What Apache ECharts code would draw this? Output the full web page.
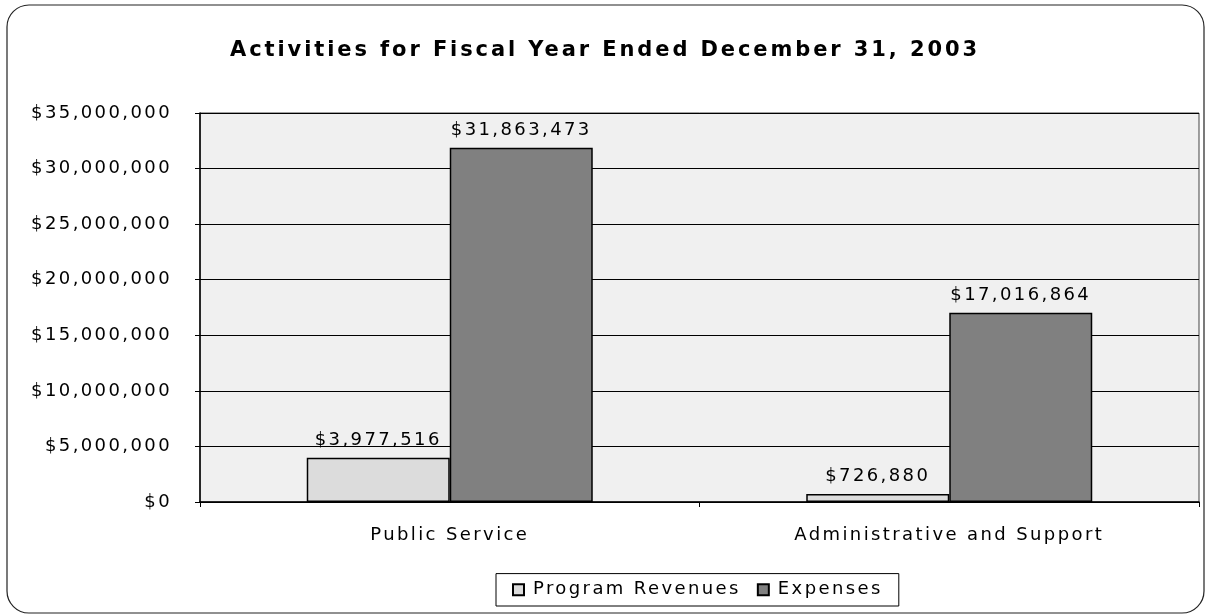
<!DOCTYPE html>
<html>
<head>
<meta charset="utf-8">
<script src="https://cdn.jsdelivr.net/npm/echarts@6/dist/echarts.min.js"></script>
<style>
html,body{margin:0;padding:0;background:#fff;}
#chart{width:1210px;height:616px;}
</style>
</head>
<body>
<div id="chart"></div>
<script>
var titleText = 'Activities for Fiscal Year Ended December 31, 2003';
var categories = ['Public Service', 'Administrative and Support'];
var seriesNames = ['Program Revenues', 'Expenses'];
var programRevenues = [3977516, 726880];
var expenses = [31863473, 17016864];
var yMin = 0, yMax = 35000000, yStep = 5000000;

// widen letter spacing of canvas text to mimic the reference's wide face
(function(){
  var proto = CanvasRenderingContext2D.prototype;
  var desc = Object.getOwnPropertyDescriptor(proto, 'font');
  if (!desc || !('letterSpacing' in proto)) return;
  Object.defineProperty(proto, 'font', {
    configurable: true,
    get: function(){ return desc.get.call(this); },
    set: function(v){
      desc.set.call(this, v);
      this.letterSpacing = /bold/.test(v) ? '2.9px' : '2.4px';
    }
  });
})();

function money(v){ return '$' + Math.round(v).toLocaleString('en-US'); }

var chart = echarts.init(document.getElementById('chart'), null, {renderer:'canvas'});
var font = 'DejaVu Sans, Verdana, sans-serif';
var labelCfg = {
  show: true, position: 'top', distance: 7,
  fontFamily: font, fontSize: 18, color: '#000',
  formatter: function(p){ return money(p.value); }
};
chart.setOption({
  backgroundColor: '#fff',
  animation: false,
  title: {
    text: titleText, left: 'center', top: 34,
    textStyle: {fontFamily: font, fontSize: 21, fontWeight: 'bold', color: '#000'}
  },
  graphic: [{
    type: 'rect', silent: true, z: -1,
    shape: {x: 7, y: 5, width: 1197, height: 608, r: 22},
    style: {fill: 'none', stroke: '#222', lineWidth: 1.2}
  }],
  legend: {
    bottom: 10, left: 496,
    data: seriesNames,
    itemWidth: 11, itemHeight: 11, itemGap: 16,
    borderColor: '#000', borderWidth: 1, borderRadius: 0,
    padding: [6, 16, 6, 16],
    textStyle: {fontFamily: font, fontSize: 18, color: '#000', padding: [0, 0, 0, 4]},
    icon: 'rect'
  },
  grid: {
    left: 200, right: 11, top: 113, bottom: 114,
    show: true, backgroundColor: '#f0f0f0', borderColor: '#444', borderWidth: 1
  },
  xAxis: {
    type: 'category', data: categories,
    axisLine: {lineStyle: {color: '#000', width: 1.5}},
    axisTick: {show: true, length: 5, lineStyle: {color: '#000'}},
    axisLabel: {fontFamily: font, fontSize: 18, color: '#000', margin: 23}
  },
  yAxis: {
    type: 'value', min: yMin, max: yMax, interval: yStep,
    axisLine: {show: true, lineStyle: {color: '#000', width: 1.5}},
    axisTick: {show: true, length: 5, lineStyle: {color: '#000'}},
    splitLine: {lineStyle: {color: '#000', width: 1.2}},
    axisLabel: {fontFamily: font, fontSize: 18, color: '#000', margin: 28, formatter: money}
  },
  series: [{
    name: seriesNames[0], type: 'bar', data: programRevenues,
    barWidth: 143, barGap: '0%',
    itemStyle: {color: '#dcdcdc', borderColor: '#000', borderWidth: 1.5},
    label: labelCfg
  }, {
    name: seriesNames[1], type: 'bar', data: expenses,
    barWidth: 143, barGap: '0%',
    itemStyle: {color: '#808080', borderColor: '#000', borderWidth: 1.5},
    label: labelCfg
  }]
});
</script>
</body>
</html>
